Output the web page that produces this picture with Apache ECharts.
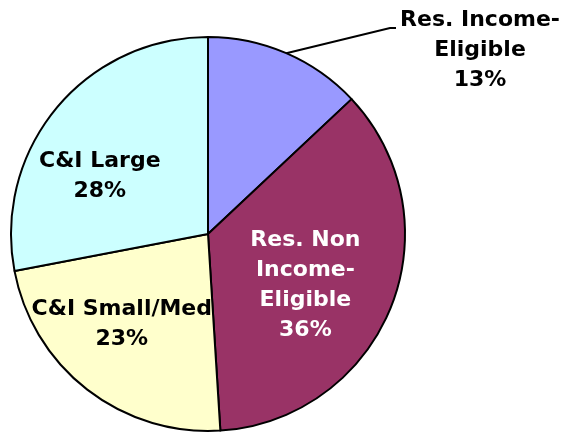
<!DOCTYPE html>
<html>
<head>
<meta charset="utf-8">
<style>
  html, body { margin: 0; padding: 0; background: #ffffff; }
  #chart { width: 562px; height: 435px; }
</style>
<script src="https://cdn.jsdelivr.net/npm/echarts@6/dist/echarts.min.js"></script>
</head>
<body>
<div id="chart"></div>
<script>
// Share of the portfolio by customer segment (percent), clockwise from 12 o'clock
const segments = ['Res. Income-\nEligible', 'Res. Non\nIncome-\nEligible', 'C&I Small/Med', 'C&I Large'];
const shares = [13, 36, 23, 28];
const sliceColors = ['#9999ff', '#993366', '#ffffcc', '#ccffff'];
const labelColors = ['#000000', '#ffffff', '#000000', '#000000'];

// Nudges for the labels that sit inside their slices
const insideNudge = [null, [3, 14], [-24, 10], [-30, 7]];

const chart = echarts.init(document.getElementById('chart'), null, { renderer: 'canvas' });

const data = segments.map((name, i) => ({
  name: name,
  value: shares[i],
  itemStyle: { color: sliceColors[i] },
  label: {
    color: labelColors[i],
    position: i === 0 ? 'outside' : 'inside'
  },
  labelLine: { show: i === 0 }
}));

chart.setOption({
  backgroundColor: '#ffffff',
  animation: false,
  series: [{
    type: 'pie',
    center: [208, 234],
    radius: [0, 197],
    startAngle: 90,
    clockwise: true,
    avoidLabelOverlap: false,
    itemStyle: { borderColor: '#000000', borderWidth: 2 },
    label: {
      show: true,
      formatter: p => p.name + '\n' + p.value + '%',
      fontFamily: 'DejaVu Sans',
      fontWeight: 'bold',
      fontSize: 22,
      lineHeight: 30,
      align: 'center',
      overflow: 'none'
    },
    labelLine: {
      show: true,
      length: 20,
      length2: 6,
      lineStyle: { color: '#000000', width: 2 }
    },
    labelLayout: function (params) {
      const i = params.dataIndex;
      if (i === 0) {
        const start = params.labelLinePoints ? params.labelLinePoints[0] : [290, 55];
        return {
          x: 480,
          y: 50,
          align: 'center',
          verticalAlign: 'middle',
          labelLinePoints: [start, [390, 28], [396, 28]]
        };
      }
      return { dx: insideNudge[i][0], dy: insideNudge[i][1] };
    },
    emphasis: { disabled: true },
    data: data
  }]
});
</script>
</body>
</html>
